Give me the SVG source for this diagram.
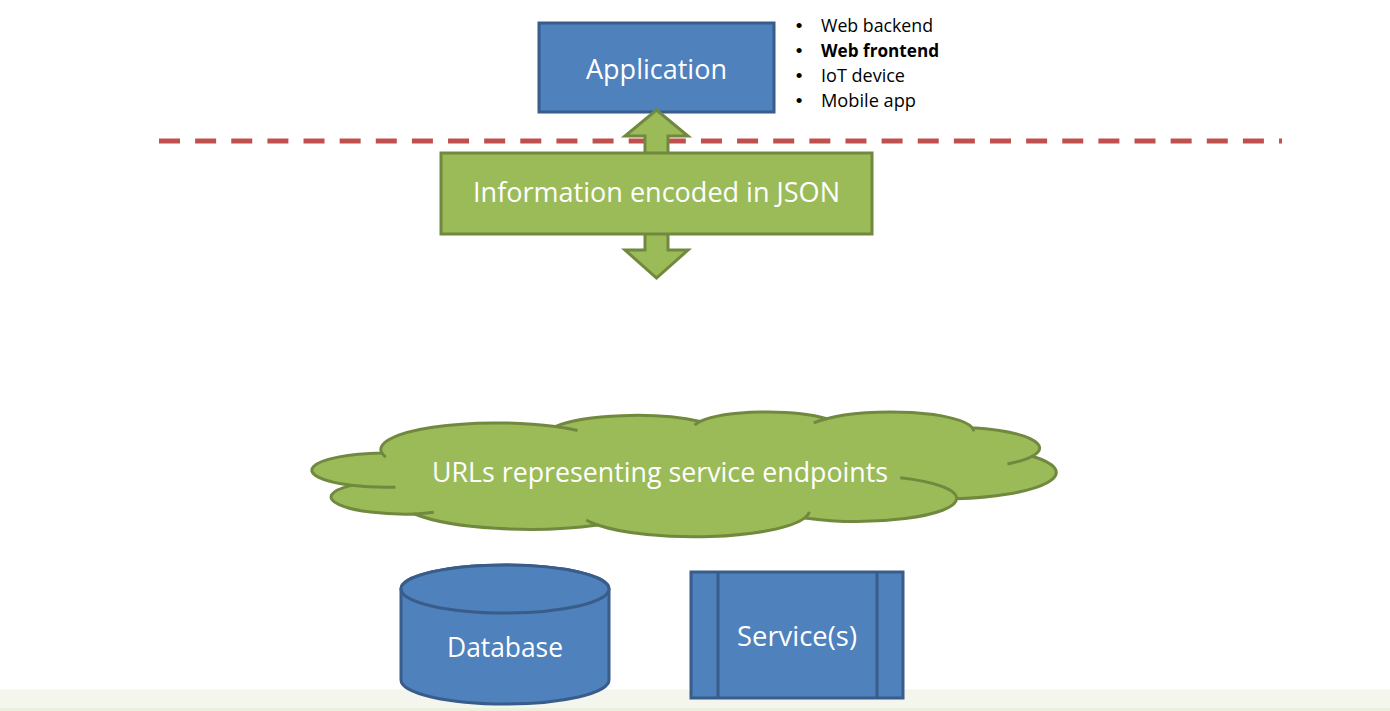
<svg xmlns="http://www.w3.org/2000/svg" width="1390" height="711" viewBox="0 0 1390 711">
  <style>
    .blue { fill: #4f81bd; stroke: #385d8a; stroke-width: 3; }
    .green { fill: #9bbb59; stroke: #71893f; stroke-width: 3; }
    .lbl { font-family: "Open Sans", "Liberation Sans", sans-serif; font-size: 27px; fill: #ffffff; text-anchor: middle; }
    .bul { font-family: "Open Sans", "Liberation Sans", sans-serif; font-size: 17.5px; fill: #000000; }
    .dot { font-family: "Liberation Sans", sans-serif; font-size: 19px; fill: #000000; text-anchor: middle; }
  </style>
  <defs>
    <filter id="sh" x="-5%" y="-200%" width="110%" height="500%">
      <feGaussianBlur stdDeviation="1.5"/>
    </filter>
  </defs>
  <rect x="0" y="0" width="1390" height="711" fill="#ffffff"/>
  <g id="footer-strip">
    <rect x="0" y="689" width="1390" height="22" fill="#f4f6ed"/>
    <rect x="0" y="689" width="1390" height="1" fill="#f8f9f3"/>
    <rect x="0" y="708" width="1390" height="3" fill="#eaf0dd"/>
  </g>
  <g id="separator">
    <line x1="159" y1="144" x2="1282" y2="144" stroke="#000000" stroke-opacity="0.25" stroke-width="5" stroke-dasharray="21 15.13" filter="url(#sh)"/>
    <line x1="159" y1="141" x2="1282" y2="141" stroke="#c0504d" stroke-width="5" stroke-dasharray="21 15.13"/>
  </g>
  <g id="application">
    <rect class="blue" x="539" y="23" width="235" height="89"/>
    <text class="lbl" x="656.5" y="79" textLength="141" lengthAdjust="spacingAndGlyphs">Application</text>
  </g>
  <g id="connectors">
    <path class="green" stroke-linejoin="miter" d="M 656.5 110 L 688 136 L 668 136 L 668 250 L 688 250 L 656.5 278 L 625 250 L 645 250 L 645 136 L 625 136 Z"/>
  </g>
  <g id="json-info">
    <rect class="green" x="441" y="153" width="431" height="81"/>
    <text class="lbl" x="656.5" y="202" textLength="367" lengthAdjust="spacingAndGlyphs">Information encoded in JSON</text>
  </g>
  <g id="cloud">
    <g transform="translate(315 411.5) scale(0.01715 0.00289)">
      <path fill="#9bbb59" stroke="#71893f" stroke-width="3" vector-effect="non-scaling-stroke" stroke-linejoin="round" d="M 3900 14370 A 6753 9190 0 0 1 14005.6 5202.6 A 5333 7267 0 0 1 22458.9 3435.8 A 4365 5945 0 0 1 29837.2 2487.6 A 4857 6595 0 0 1 38322.1 5583.4 A 5333 7273 0 0 1 41822.5 15467.2 A 6775 9220 0 0 1 37406.9 30207.2 A 5785 7867 0 0 1 28558.4 36817.3 A 6752 9215 0 0 1 16482.6 39266.7 A 7720 10543 0 0 1 5805.8 35470.5 A 4360 5918 0 0 1 2115.5 25547.6 A 4345 5945 0 0 1 3900 14370 Z"/>
      <path fill="none" stroke="#71893f" stroke-width="3" vector-effect="non-scaling-stroke" d="M 4693 26177 A 4345 5945 0 0 1 2115.5 25547.6 M 6928 34899 A 4360 5918 0 0 1 5805.8 35470.5 M 16482.6 39266.7 A 6752 9215 0 0 1 15814.8 37526.1 M 28827 34751 A 6752 9215 0 0 1 28558.4 36817.3 M 34129 22954 A 5785 7867 0 0 1 37406.9 30207.2 M 41822.5 15467.2 A 5333 7273 0 0 1 40376 18141.4 M 38322.1 5583.4 A 4857 6595 0 0 1 38398.5 6846.8 M 29078 3952 A 4857 6595 0 0 1 29837.2 2487.6 M 22141 4720 A 4365 5945 0 0 1 22458.9 3435.8 M 14005.6 5202.6 A 6753 9190 0 0 1 15308.1 6554.8 M 4127 15789 A 6753 9190 0 0 1 3900 14370"/>
    </g>
    <text class="lbl" x="660" y="482" textLength="456" lengthAdjust="spacingAndGlyphs">URLs representing service endpoints</text>
  </g>
  <g id="database">
    <path class="blue" d="M 401 589 A 104 24 0 0 1 609 589 L 609 680 A 104 24 0 0 1 401 680 Z"/>
    <ellipse class="blue" cx="505" cy="589" rx="104" ry="24"/>
    <text class="lbl" x="505" y="657" textLength="116" lengthAdjust="spacingAndGlyphs">Database</text>
  </g>
  <g id="services">
    <rect class="blue" x="691" y="572" width="212" height="126"/>
    <line x1="718" y1="572" x2="718" y2="698" stroke="#385d8a" stroke-width="3"/>
    <line x1="877" y1="572" x2="877" y2="698" stroke="#385d8a" stroke-width="3"/>
    <text class="lbl" x="797" y="646" textLength="120" lengthAdjust="spacingAndGlyphs">Service(s)</text>
  </g>
  <g id="app-types">
    <text class="dot" x="799" y="32">•</text>
    <text class="bul" x="821" y="32" textLength="112" lengthAdjust="spacingAndGlyphs">Web backend</text>
    <text class="dot" x="799" y="57">•</text>
    <text class="bul" x="821" y="57" font-weight="bold" textLength="118" lengthAdjust="spacingAndGlyphs">Web frontend</text>
    <text class="dot" x="799" y="82">•</text>
    <text class="bul" x="821" y="82" textLength="84" lengthAdjust="spacingAndGlyphs">IoT device</text>
    <text class="dot" x="799" y="107">•</text>
    <text class="bul" x="821" y="107" textLength="95" lengthAdjust="spacingAndGlyphs">Mobile app</text>
  </g>
</svg>
